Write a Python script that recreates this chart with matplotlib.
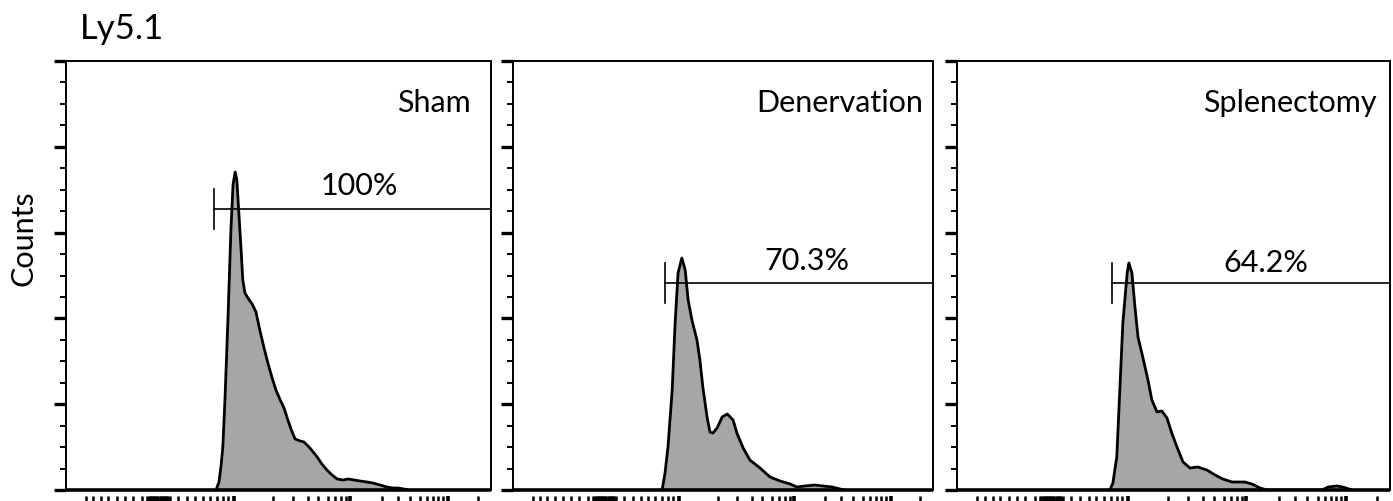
import numpy as np
import matplotlib
matplotlib.use("Agg")
import matplotlib.pyplot as plt

plt.rcParams['font.family'] = ['Lato', 'DejaVu Sans']

# --- data (x: display channel 0-1000, y: counts 0-429) ---
conditions = ["Sham", "Denervation", "Splenectomy"]
gate_pct = ["100%", "70.3%", "64.2%"]

sham_x = [353, 360, 365, 369, 374, 381, 388, 393, 398, 402, 407, 412, 416, 421, 428,
          438, 447, 456, 466, 475, 485, 494, 504, 513, 522, 532, 539, 551, 560, 574,
          591, 602, 614, 626, 638, 652, 664, 678, 692, 708, 722, 739, 755, 769, 781,
          795, 805]
sham_y = [0, 8, 25, 43, 90, 170, 260, 305, 318, 310, 275, 240, 210, 197, 192,
          186, 178, 160, 142, 127, 112, 100, 90, 82, 70, 58, 51, 49, 48, 42,
          33, 26, 20, 15, 11, 10, 11, 10, 9, 8, 7, 5, 3, 2, 2,
          1, 0]

denerv_x = [355, 362, 369, 379, 386, 393, 402, 410, 417, 426, 438, 445, 452, 462, 469,
            476, 486, 498, 510, 524, 533, 548, 564, 588, 612, 636, 660, 676, 695, 719,
            738, 760, 779, 790]
denerv_y = [0, 17, 43, 100, 167, 217, 232, 220, 190, 170, 150, 130, 103, 73, 58,
            57, 62, 73, 76, 70, 57, 42, 30, 22, 13, 9, 6, 3, 4, 5,
            4, 3, 1, 0]

splen_x = [353, 360, 369, 376, 383, 393, 397, 404, 411, 418, 429, 441, 450, 462, 473,
           485, 496, 508, 522, 538, 556, 577, 596, 614, 635, 665, 681, 700, 716, 843,
           857, 877, 891, 912]
splen_y = [0, 7, 33, 100, 167, 217, 227, 217, 183, 153, 133, 110, 90, 78, 79,
           72, 57, 43, 28, 22, 23, 20, 15, 11, 8, 8, 6, 2, 0, 0,
           3, 4, 3, 0]

# gate start (x) and height (y), label position
gate_x = [348, 362, 358]
gate_y = [281, 207, 207]
label_x = [689, 700, 713]
label_y = [304, 229, 227]

series_x = [sham_x, denerv_x, splen_x]
series_y = [sham_y, denerv_y, splen_y]

# --- layout (pixels of the 1393x501 reference) ---
W, H = 1393, 501
panel_left = [66, 513, 957]
panel_width = [425, 420, 433]
ax_bottom = 490
ax_top = 61
name_x = [0.953, 0.976, 0.970]

# x ticks of the biexponential axis
major_ticks = [395, 668, 899]
minor_ticks = [47, 64, 82, 99, 120, 139, 158, 179, 191,
               245, 264, 285, 304, 322, 339, 355, 369, 381,
               487, 534, 569, 593, 616, 633, 647, 659,
               744, 781, 809, 833, 849, 864, 875, 887, 969]
zero_block = list(np.arange(195, 241, 2.5))

fig = plt.figure(figsize=(W / 100, H / 100), dpi=100)

for i in range(3):
    ax = fig.add_axes([panel_left[i] / W, (H - ax_bottom) / H,
                       panel_width[i] / W, (ax_bottom - ax_top) / H])
    ax.fill_between(series_x[i], series_y[i], 0, color="#a6a6a6", lw=0)
    ax.plot(series_x[i], series_y[i], color="black", lw=2.0, solid_joinstyle="round")

    # gate
    ax.plot([gate_x[i], 1000], [gate_y[i], gate_y[i]], color="black", lw=1.2, clip_on=False)
    ax.plot([gate_x[i], gate_x[i]], [gate_y[i] - 20, gate_y[i] + 20], color="black", lw=1.2)
    ax.text(label_x[i], label_y[i], gate_pct[i], ha="center", va="center", fontsize=22)

    ax.text(name_x[i], 0.902, conditions[i], transform=ax.transAxes,
            ha="right", va="center", fontsize=22)

    ax.set_xlim(0, 1000)
    ax.set_ylim(0, 429)

    for s in ["top", "left", "right"]:
        ax.spines[s].set_linewidth(1.4)
    ax.spines["bottom"].set_visible(False)
    ax.spines["bottom"].set_position(("outward", 4))
    ax.plot([0, 1], [0, 0], transform=ax.transAxes, color="black", lw=2.6,
            clip_on=False, solid_capstyle="butt")

    ax.set_yticks(np.arange(0, 430, 85.8))
    ax.set_yticks(np.arange(0, 430, 21.45), minor=True)
    ax.tick_params(axis="y", which="major", direction="out", length=8.5, width=2.4, labelleft=False)
    ax.tick_params(axis="y", which="minor", direction="out", length=4.5, width=1.4)

    ax.set_xticks(major_ticks)
    ax.set_xticks(minor_ticks + zero_block, minor=True)
    ax.tick_params(axis="x", which="major", direction="out", length=12, width=2.6, labelbottom=False)
    ax.tick_params(axis="x", which="minor", direction="out", length=12, width=1.8)

fig.text(80 / W, (H - 39) / H, "Ly5.1", fontsize=25, ha="left", va="baseline")
fig.text(23 / W, (H - 238) / H, "Counts", fontsize=22, rotation=90, ha="center", va="center")

fig.savefig("out.png", dpi=100)
